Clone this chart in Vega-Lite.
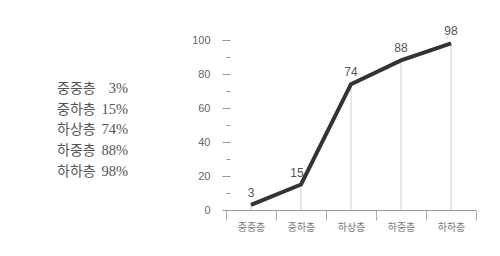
{
  "$schema": "https://vega.github.io/schema/vega-lite/v6.json",
  "width": 250,
  "height": 170,
  "autosize": {"type": "none"},
  "padding": {"left": 226, "top": 40, "right": 24, "bottom": 46},
  "background": "white",
  "config": {"view": {"stroke": null}, "font": "Noto Sans CJK KR"},
  "data": {
    "values": [
      {"cls": "중중층", "pct": 3, "rank": 1},
      {"cls": "중하층", "pct": 15, "rank": 2},
      {"cls": "하상층", "pct": 74, "rank": 3},
      {"cls": "하중층", "pct": 88, "rank": 4},
      {"cls": "하하층", "pct": 98, "rank": 5}
    ]
  },
  "layer": [
    {
      "encoding": {
        "x": {
          "field": "cls",
          "type": "nominal",
          "sort": null,
          "scale": {"paddingInner": 0, "paddingOuter": 0},
          "axis": {
            "title": null,
            "tickBand": "extent",
            "tickSize": 10,
            "domainColor": "#999",
            "tickColor": "#aaa",
            "labelAngle": 0,
            "labelFont": "Noto Sans CJK KR",
            "labelFontSize": 10,
            "labelColor": "#777",
            "labelPadding": 2
          }
        },
        "y": {
          "field": "pct",
          "type": "quantitative",
          "scale": {"domain": [0, 100], "nice": false},
          "axis": {
            "title": null,
            "values": [0, 10, 20, 30, 40, 50, 60, 70, 80, 90, 100],
            "labelExpr": "datum.value % 20 === 0 ? datum.label : ''",
            "tickSize": {"condition": {"test": "datum.value % 20 === 0", "value": 8}, "value": 4},
            "domain": false,
            "offset": -4,
            "grid": false,
            "tickColor": "#999",
            "labelColor": "#666",
            "labelFont": "Liberation Sans",
            "labelFontSize": 11,
            "labelPadding": 12
          }
        }
      },
      "layer": [
        {
          "data": {"values": [{"part": "y-axis"}]},
          "mark": {"type": "rule", "color": "#999", "strokeWidth": 1},
          "encoding": {
            "x": {"datum": "중중층", "type": "nominal", "bandPosition": 0},
            "y": {"datum": 100, "type": "quantitative"},
            "y2": {"datum": -9}
          }
        },
        {
          "mark": {"type": "rule", "color": "#d0d0d0", "strokeWidth": 1},
          "encoding": {"y2": {"datum": 0}}
        },
        {
          "mark": {"type": "line", "color": "#333", "strokeWidth": 4, "strokeCap": "butt"},
          "encoding": {}
        },
        {
          "transform": [{"filter": "datum.pct !== 15"}],
          "mark": {"type": "text", "dy": -12, "fontSize": 12, "color": "#555", "font": "Liberation Sans"},
          "encoding": {"text": {"field": "pct", "type": "quantitative"}}
        },
        {
          "transform": [{"filter": "datum.pct === 15"}],
          "mark": {"type": "text", "dy": -12, "dx": -4, "fontSize": 12, "color": "#555", "font": "Liberation Sans"},
          "encoding": {"text": {"field": "pct", "type": "quantitative"}}
        }
      ]
    },
    {
      "transform": [{"calculate": "datum.pct + '%'", "as": "pctLabel"}],
      "encoding": {
        "y": {
          "field": "rank",
          "type": "quantitative",
          "scale": {"domain": [-1.361, 6.831], "reverse": true, "nice": false, "zero": false},
          "axis": null
        }
      },
      "layer": [
        {
          "mark": {"type": "text", "align": "left", "baseline": "middle", "font": "Noto Sans CJK KR", "fontSize": 14, "color": "#555"},
          "encoding": {
            "x": {"datum": 0, "type": "quantitative", "scale": {"domain": [2.38, 5.901], "nice": false, "zero": false}, "axis": null},
            "text": {"field": "cls"}
          }
        },
        {
          "mark": {"type": "text", "align": "right", "baseline": "middle", "font": "Liberation Serif", "fontSize": 14.5, "color": "#555"},
          "encoding": {
            "x": {"datum": 1, "type": "quantitative"},
            "text": {"field": "pctLabel"}
          }
        }
      ]
    }
  ],
  "resolve": {"scale": {"x": "independent", "y": "independent"}}
}
